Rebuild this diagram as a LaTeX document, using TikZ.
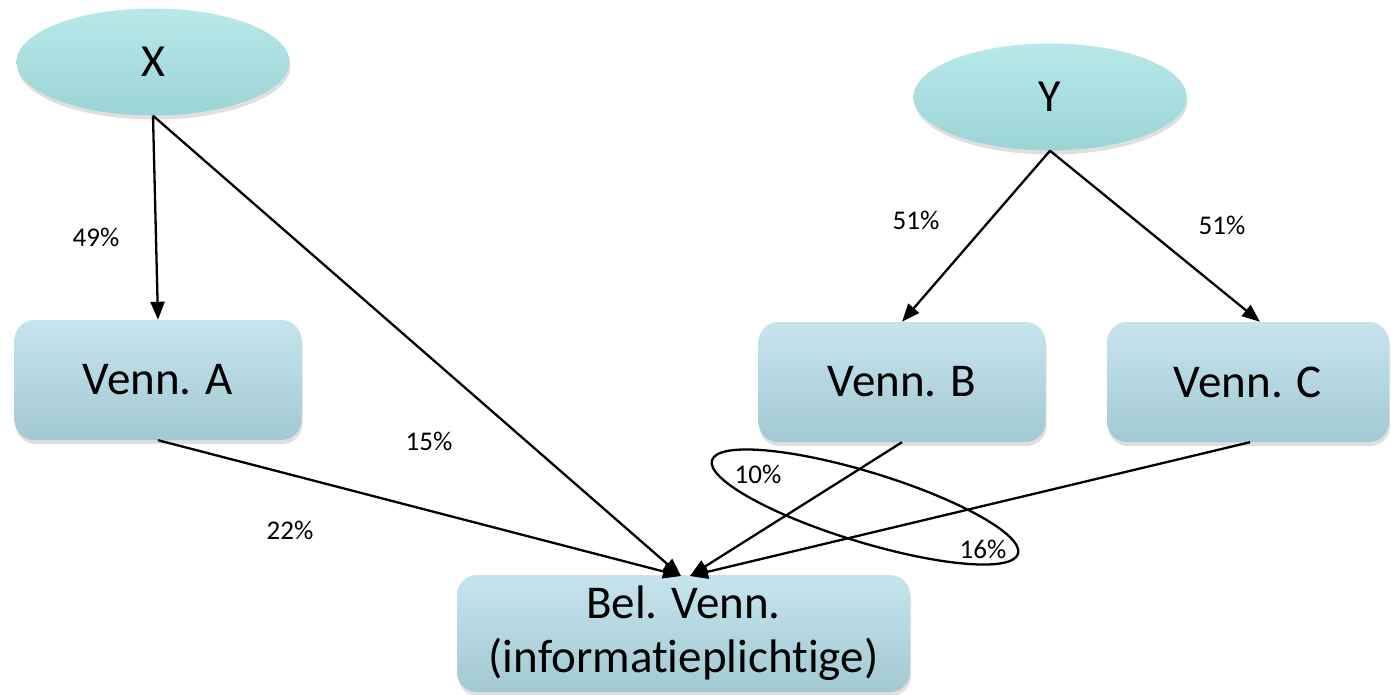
\documentclass[tikz,border=0pt]{standalone}
\usepackage{fontspec}
\setmainfont{Carlito}[Ligatures=NoCommon]
\usetikzlibrary{arrows.meta,shadows,calc,shapes.geometric}
\definecolor{elltop}{RGB}{184,232,234}
\definecolor{ellbot}{RGB}{156,212,214}
\definecolor{boxtop}{RGB}{198,228,238}
\definecolor{boxbot}{RGB}{162,201,211}
\begin{document}
\begin{tikzpicture}[x=1pt,y=-1pt,
  oval/.style={ellipse, minimum width=273pt, minimum height=107pt, inner sep=0pt,
    top color=elltop, bottom color=ellbot,
    drop shadow={shadow xshift=1pt, shadow yshift=-4pt, opacity=0.25},
    font=\fontsize{46}{50}\selectfont},
  vbox/.style={rectangle, rounded corners=20pt, minimum width=287pt, minimum height=120pt, inner sep=0pt,
    top color=boxtop, bottom color=boxbot,
    drop shadow={shadow xshift=1pt, shadow yshift=-4pt, opacity=0.25},
    font=\fontsize{47}{54}\selectfont, align=center},
  pct/.style={font=\fontsize{27}{30}\selectfont, inner sep=0pt},
  conn/.style={line width=2.3pt, -{Triangle[length=18pt,width=14pt]}},
  ring/.style={line width=2.3pt}
]
\useasboundingbox (0,0) rectangle (1391,694);

\node[oval] (X) at (153,62) {X};
\node[oval] (Y) at (1050,97) {Y};

\node[vbox] (A) at (158,380) {Venn. A};
\node[vbox] (B) at (902,382) {Venn. B};
\node[vbox, minimum width=282pt] (C) at (1248,382) {Venn. C};
\node[vbox, minimum width=453pt, minimum height=117pt] (Bel) at (683.5,633.5) {Bel. Venn.\\(informatieplichtige)};

\coordinate (tipL) at (681,576);
\coordinate (tipR) at (690,576);
\coordinate (tipC) at ($(C.north)+(12,0)$);

\draw[conn] (X.south) -- (A.north);
\draw[conn] (X.south) -- (tipL);
\draw[conn] (A.south) -- (tipL);
\draw[conn] (Y.south) -- (B.north);
\draw[conn] (Y.south) -- (tipC);
\draw[conn] (B.south) -- (tipR);
\draw[conn] ($(C.south)+(2,0)$) -- (tipR);

\node[pct] (p49) at (96,237) {49\%};
\node[pct] (p15) at (429,441) {15\%};
\node[pct] (p22) at (290,530) {22\%};
\node[pct] (p51a) at (916,220) {51\%};
\node[pct] (p51b) at (1222,225) {51\%};
\node[pct] (p10) at (758,474) {10\%};
\node[pct] (p16) at (983,549) {16\%};

\draw[ring, rotate around={-17:(865,507)}] (865,507) ellipse [x radius=160, y radius=35];
\end{tikzpicture}
\end{document}
